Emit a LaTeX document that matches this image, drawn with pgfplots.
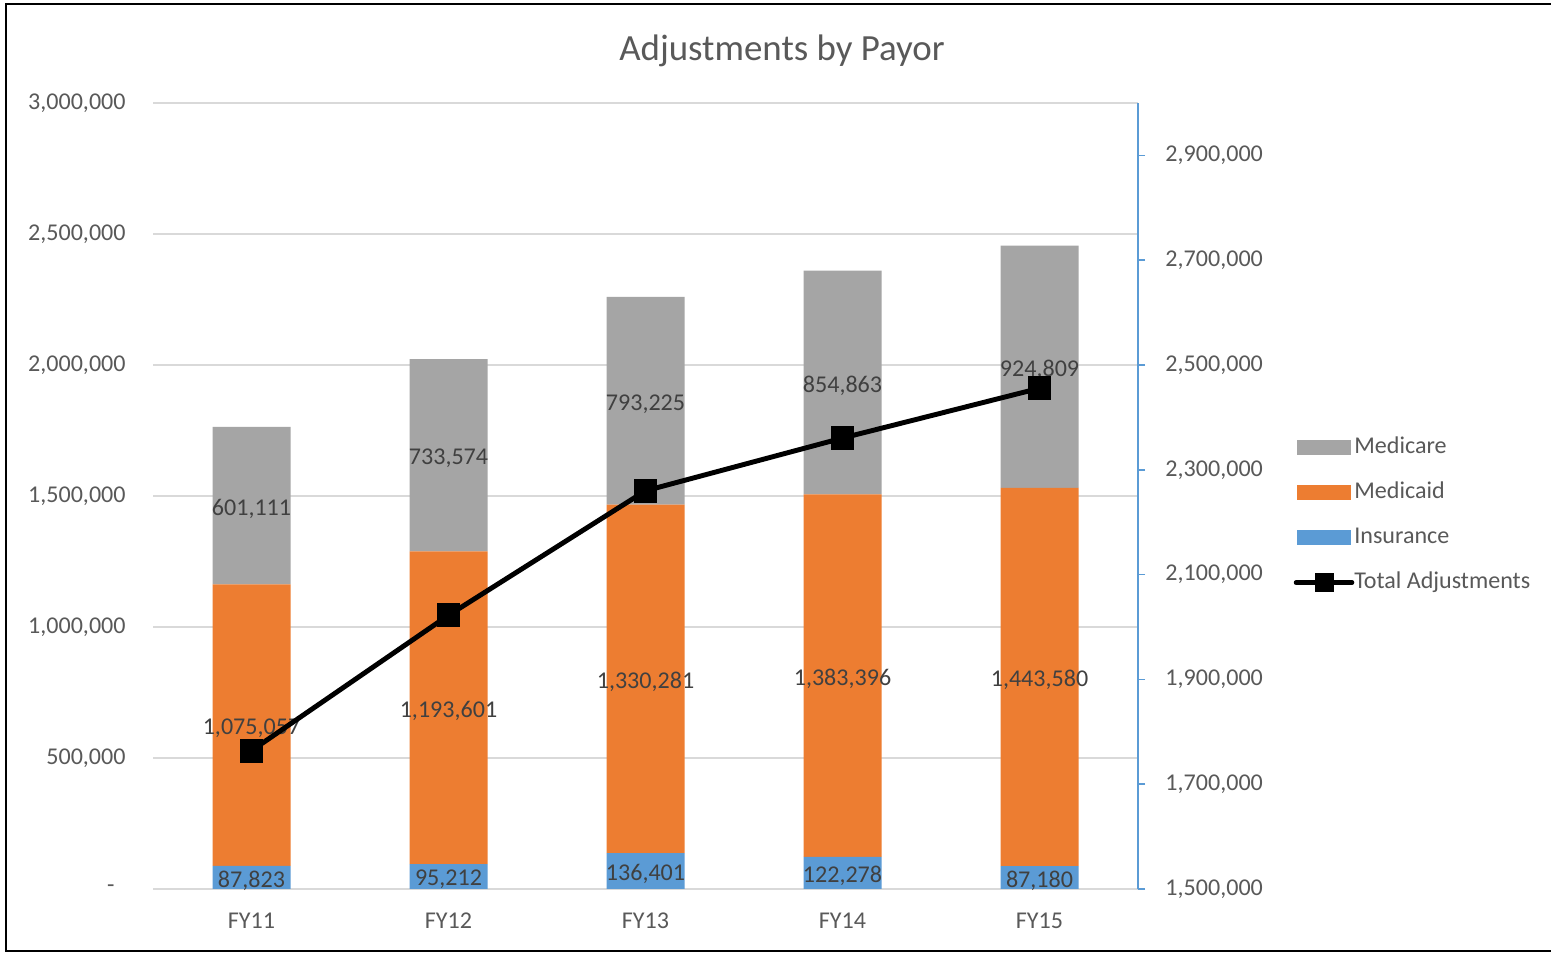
\documentclass[border=0pt]{standalone}
\usepackage{pgfplots}
\usepackage{pgfplotstable}
\pgfplotsset{compat=1.18}
\usepackage{fontspec}
\setmainfont{Carlito}
\definecolor{cIns}{HTML}{5B9BD5}
\definecolor{cMcd}{HTML}{ED7D31}
\definecolor{cMcr}{HTML}{A5A5A5}
\definecolor{cGrid}{HTML}{D9D9D9}
\definecolor{cTick}{HTML}{595959}
\definecolor{cLab}{HTML}{404040}
\pgfplotstableread{
x ins mcd mcr tot
0 87823 1075057 601111 1763991
1 95212 1193601 733574 2022387
2 136401 1330281 793225 2259907
3 122278 1383396 854863 2360537
4 87180 1443580 924809 2455569
}\data
\newcommand{\sz}{\fontsize{6.85}{8.2}\selectfont}
\pgfkeys{/pgf/number format/assume math mode=true}
\pgfplotsset{
  common/.style={
    at={(1.53cm,0.65cm)}, anchor=south west,
    scale only axis, width=9.85cm, height=7.86cm,
    xmin=-0.5, xmax=4.5, scaled y ticks=false,
  },
  lab/.style={draw=none, mark=none, nodes near coords, point meta=explicit,
    every node near coord/.append style={anchor=center, font=\sz, text=cLab, inner sep=0pt, yshift=-0.03cm}},
}
\begin{document}
\begin{tikzpicture}
\path[use as bounding box] (0,0) rectangle (15.51,9.54);
\fill[white] (0,0) rectangle (15.51,9.54);
\draw[black, line width=0.6pt] (15.7,9.50) -- (0.06,9.50) -- (0.06,0.03) -- (15.7,0.03);
\node[font=\fontsize{10.5}{12.6}\selectfont, text=cTick] at (7.82,9.03) {Adjustments by Payor};

% bars
\begin{axis}[common,
  ymin=0, ymax=3000000,
  ybar stacked, bar width=0.78cm,
  xtick={0,1,2,3,4}, xticklabels={FY11,FY12,FY13,FY14,FY15},
  ytick={0,500000,1000000,1500000,2000000,2500000,3000000},
  yticklabels={{-\hspace*{0.11cm}},{500,000},{1,000,000},{1,500,000},{2,000,000},{2,500,000},{3,000,000}},
  axis x line*=bottom, axis y line*=left,
  x axis line style={draw=cGrid, line width=0.6pt, -},
  y axis line style={draw=none},
  major tick length=0pt,
  ymajorgrids, grid style={draw=cGrid, line width=0.55pt},
  yticklabel style={font=\sz, text=cTick, xshift=-0.15cm},
  xticklabel style={font=\sz, text=cTick, yshift=-0.115cm},
]
\addplot[fill=cIns, draw=none] table[x=x, y=ins]{\data};
\addplot[fill=cMcd, draw=none] table[x=x, y=mcd]{\data};
\addplot[fill=cMcr, draw=none] table[x=x, y=mcr]{\data};
\end{axis}

% data labels
\begin{axis}[common, ymin=0, ymax=3000000, hide axis, clip=false,
  /pgf/number format/fixed, /pgf/number format/precision=0,
  /pgf/number format/1000 sep={,}]
\addplot[lab] table[x=x, y expr=\thisrow{ins}/2, meta=ins]{\data};
\addplot[lab] table[x=x, y expr=\thisrow{ins}+\thisrow{mcd}/2, meta=mcd]{\data};
\addplot[lab] table[x=x, y expr=\thisrow{ins}+\thisrow{mcd}+\thisrow{mcr}/2, meta=mcr]{\data};
\end{axis}

% total line, right axis
\begin{axis}[common,
  ymin=1500000, ymax=3000000,
  axis x line=none, axis y line*=right,
  ytick={1500000,1700000,1900000,2100000,2300000,2500000,2700000,2900000},
  yticklabels={{1,500,000},{1,700,000},{1,900,000},{2,100,000},{2,300,000},{2,500,000},{2,700,000},{2,900,000}},
  y axis line style={draw=cIns, line width=0.45pt, -},
  ytick style={draw=cIns, line width=0.45pt},
  tick align=outside, major tick length=0.07cm,
  yticklabel style={font=\sz, text=cTick, anchor=west, xshift=0.08cm},
  legend style={draw=none, fill=none, at={(1.1574,0.577)}, anchor=north west,
    inner sep=0pt, row sep=6.3pt, font=\sz, text=cTick,
    nodes={text height=5pt, text depth=1.5pt, inner sep=0pt, anchor=west}},
  legend cell align=left,
]
\addlegendimage{legend image code/.code={\fill[cMcr] (0cm,-0.07cm) rectangle (0.52cm,0.07cm);}}
\addlegendimage{legend image code/.code={\fill[cMcd] (0cm,-0.07cm) rectangle (0.52cm,0.07cm);}}
\addlegendimage{legend image code/.code={\fill[cIns] (0cm,-0.07cm) rectangle (0.52cm,0.07cm);}}
\addplot[black, line width=1.4pt, mark=square*, mark size=2.7pt,
  legend image code/.code={\draw[black, line width=1.3pt, line cap=round] (-0.02cm,0cm) -- (0.54cm,0cm);
    \fill[black] (0.19cm,-0.07cm) rectangle (0.33cm,0.07cm);}]
  table[x=x, y=tot]{\data};
\legend{Medicare,Medicaid,Insurance,Total Adjustments}
\end{axis}
\end{tikzpicture}
\end{document}
